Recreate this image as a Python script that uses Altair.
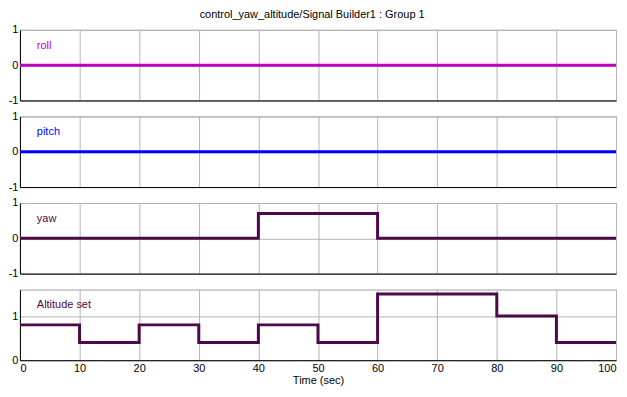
import altair as alt
import pandas as pd

FONT = "Liberation Sans"

time_roll = [0, 100]
roll = [0, 0]
time_pitch = [0, 100]
pitch = [0, 0]
time_yaw = [0, 40, 60, 100]
yaw = [0, 0.7, 0, 0]
time_alt = [0, 10, 20, 30, 40, 50, 60, 80, 90, 100]
alt_set = [0.8, 0.4, 0.8, 0.4, 0.8, 0.4, 1.5, 1.0, 0.4, 0.4]
x_ticks = list(range(0, 101, 10))


def panel(t, v, name, color, domain, yticks, bottom):
    df = pd.DataFrame({"t": t, "v": v})
    if bottom:
        xaxis = alt.Axis(values=x_ticks, grid=True, gridColor="#b4b4b4", domainColor="#000",
                         ticks=False, labelPadding=2, labelFont=FONT, labelFontSize=11,
                         labelColor="#000", format="d", labelOverlap=False,
                         title="Time (sec)", titleFont=FONT,
                         titleFontSize=11, titleFontWeight="normal", titlePadding=1,
                         titleColor="#000")
    else:
        xaxis = alt.Axis(values=x_ticks, grid=True, gridColor="#b4b4b4", domainColor="#000",
                         ticks=False, labels=False, title=None)
    yaxis = alt.Axis(values=yticks, grid=True, gridColor="#b4b4b4", domainColor="#000",
                     ticks=False, labelPadding=2, labelFont=FONT, labelFontSize=11,
                     labelColor="#000", labelExpr="toString(datum.value)",
                     labelOverlap=False, labelBound=False, title=None)
    line = alt.Chart(df).mark_line(interpolate="step-after", strokeWidth=3, color=color,
                                   clip=True).encode(
        x=alt.X("t:Q", scale=alt.Scale(domain=[0, 100], nice=False), axis=xaxis),
        y=alt.Y("v:Q", scale=alt.Scale(domain=domain, nice=False, zero=False), axis=yaxis),
    )
    label = alt.Chart(pd.DataFrame({"label": [name]})).mark_text(
        align="left", baseline="middle", font=FONT, fontSize=11, color=color
    ).encode(text="label:N", x=alt.value(17), y=alt.value(16))
    return alt.layer(line, label).properties(width=599, height=71)


chart = alt.vconcat(
    panel(time_roll, roll, "roll", "#bf00bf", [-1, 1], [-1, 0, 1], False),
    panel(time_pitch, pitch, "pitch", "#0000ff", [-1, 1], [-1, 0, 1], False),
    panel(time_yaw, yaw, "yaw", "#4c0a48", [-1, 1], [-1, 0, 1], False),
    panel(time_alt, alt_set, "Altitude set", "#4c0a48", [0, 1.6], [0, 1], True),
    spacing=16,
    bounds="flush",
).properties(
    title=alt.TitleParams("control_yaw_altitude/Signal Builder1 : Group 1", font=FONT,
                          fontSize=11, fontWeight="normal", anchor="middle", offset=3,
                          color="#000"),
    padding={"left": -1, "top": 0, "right": 2, "bottom": 0},
).configure_view(stroke="#a0a0a0")

chart.save("out.html", embed_options={"renderer": "svg", "actions": False})
